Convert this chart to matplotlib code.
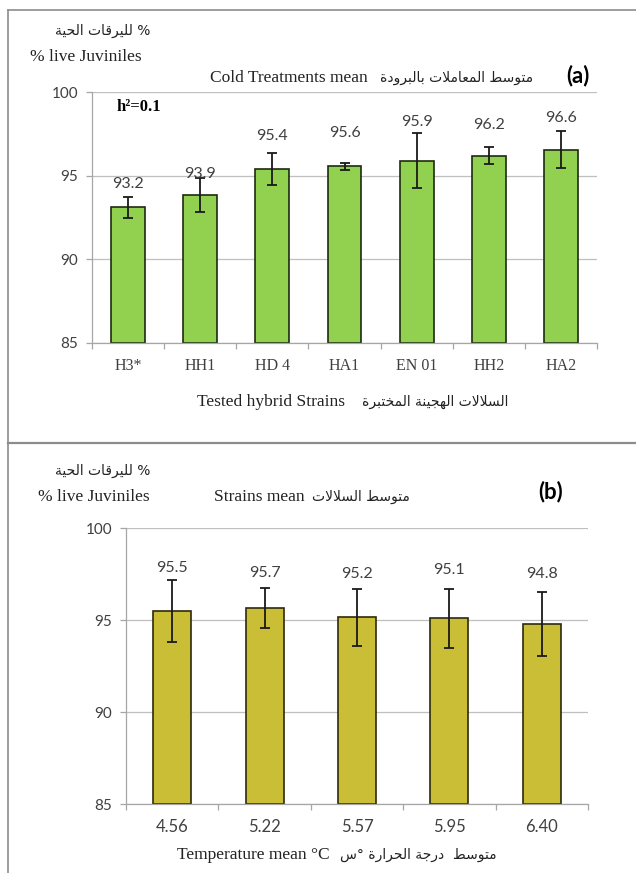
import numpy as np
import matplotlib
matplotlib.use('Agg')
import matplotlib.pyplot as plt
from matplotlib.lines import Line2D

# ---- data ----
strains = ['H3*', 'HH1', 'HD 4', 'HA1', 'EN 01', 'HH2', 'HA2']
strain_means = [93.2, 93.9, 95.4, 95.6, 95.9, 96.2, 96.6]
strain_bar_vals = [93.1, 93.85, 95.4, 95.55, 95.9, 96.2, 96.55]
strain_err = [0.6, 1.0, 0.95, 0.2, 1.65, 0.5, 1.1]

temps = ['4.56', '5.22', '5.57', '5.95', '6.40']
temp_means = [95.5, 95.7, 95.2, 95.1, 94.8]
temp_bar_vals = [95.5, 95.65, 95.15, 95.1, 94.8]
temp_err = [1.7, 1.08, 1.55, 1.6, 1.73]

# label heights above the bar value (style only)
top_lab_off = [1.3, 1.2, 2.0, 1.95, 2.3, 1.8, 1.85]
bot_lab_off = [2.3, 1.85, 2.3, 2.6, 2.7]

# ---- tiny arabic shaper (no reshaper lib here) ----
FORMS = {
    'ا': (0xFE8D, 0xFE8E, None, None),
    'ب': (0xFE8F, 0xFE90, 0xFE91, 0xFE92),
    'ة': (0xFE93, 0xFE94, None, None),
    'ت': (0xFE95, 0xFE96, 0xFE97, 0xFE98),
    'ج': (0xFE9D, 0xFE9E, 0xFE9F, 0xFEA0),
    'ح': (0xFEA1, 0xFEA2, 0xFEA3, 0xFEA4),
    'خ': (0xFEA5, 0xFEA6, 0xFEA7, 0xFEA8),
    'د': (0xFEA9, 0xFEAA, None, None),
    'ر': (0xFEAD, 0xFEAE, None, None),
    'س': (0xFEB1, 0xFEB2, 0xFEB3, 0xFEB4),
    'ط': (0xFEC1, 0xFEC2, 0xFEC3, 0xFEC4),
    'ع': (0xFEC9, 0xFECA, 0xFECB, 0xFECC),
    'ق': (0xFED5, 0xFED6, 0xFED7, 0xFED8),
    'ل': (0xFEDD, 0xFEDE, 0xFEDF, 0xFEE0),
    'م': (0xFEE1, 0xFEE2, 0xFEE3, 0xFEE4),
    'ن': (0xFEE5, 0xFEE6, 0xFEE7, 0xFEE8),
    'ه': (0xFEE9, 0xFEEA, 0xFEEB, 0xFEEC),
    'و': (0xFEED, 0xFEEE, None, None),
    'ي': (0xFEF1, 0xFEF2, 0xFEF3, 0xFEF4),
    'LA': (0xFEFB, 0xFEFC, None, None),
}


def ar(text):
    chars = []
    i = 0
    while i < len(text):
        if text[i] == 'ل' and i + 1 < len(text) and text[i + 1] == 'ا':
            chars.append('LA')
            i += 2
        else:
            chars.append(text[i])
            i += 1
    out = []
    for k, c in enumerate(chars):
        if c not in FORMS:
            out.append(c)
            continue
        prev = chars[k - 1] if k > 0 else None
        nxt = chars[k + 1] if k + 1 < len(chars) else None
        jp = prev in FORMS and FORMS[prev][2] is not None
        jn = FORMS[c][2] is not None and nxt in FORMS
        iso, fin, ini, med = FORMS[c]
        if jp and jn:
            g = med
        elif jp:
            g = fin
        elif jn:
            g = ini
        else:
            g = iso
        out.append(chr(g))
    return ''.join(reversed(out))


SERIF = 'Liberation Serif'
SANS = 'Lato'
ARF = 'DejaVu Sans'
GREY_TXT = '#404040'
TXT = '#222222'
EN_SIZE = 12.5
AR_SIZE = 10

W, H = 636, 873
fig = plt.figure(figsize=(W / 100, H / 100), dpi=100)


def fx(px):
    return px / W


def fy(py):
    return 1 - py / H


def style_axes(ax, n, labels, lab_font, lab_size):
    ax.set_xlim(-0.5, n - 0.5)
    ax.set_ylim(85, 100)
    ax.set_yticks([85, 90, 95, 100])
    ax.yaxis.grid(True, color='#BFBFBF', lw=0.9)
    ax.set_axisbelow(True)
    for s in ['top', 'right']:
        ax.spines[s].set_visible(False)
    for s in ['left', 'bottom']:
        ax.spines[s].set_color('#A6A6A6')
        ax.spines[s].set_linewidth(0.9)
    ax.set_xticks(range(n))
    ax.set_xticklabels(labels, fontfamily=lab_font, fontsize=lab_size, color=GREY_TXT)
    ax.set_xticks(np.arange(-0.5, n), minor=True)
    ax.tick_params(axis='x', which='major', length=0, pad=11)
    ax.tick_params(axis='x', which='minor', length=4, color='#A6A6A6', width=0.9)
    ax.tick_params(axis='y', length=4, color='#A6A6A6', width=0.9, pad=6,
                   labelsize=11, labelcolor=GREY_TXT)
    for t in ax.get_yticklabels():
        t.set_fontfamily(SANS)


# ================= panel (a) =================
ax1 = fig.add_axes([fx(92), fy(343), fx(597) - fx(92), fy(92) - fy(343)])
x1 = np.arange(len(strains))
ax1.bar(x1, np.array(strain_bar_vals) - 85, bottom=85, width=0.47,
        color='#92D050', edgecolor='#1E2A10', lw=1.2, zorder=2)
ax1.errorbar(x1, strain_bar_vals, yerr=strain_err, fmt='none', ecolor='#1a1a1a',
             elinewidth=1.3, capsize=3.5, capthick=1.3, zorder=3)
for xi, v, off in zip(x1, strain_means, top_lab_off):
    ax1.text(xi, v + off, f'{v:.1f}', ha='center', va='center', fontsize=11.5,
             fontfamily=SANS, color=GREY_TXT)
style_axes(ax1, len(strains), strains, SERIF, 11.5)
ax1.text(fx(117 - 92) / (fx(597) - fx(92)), 0.94, 'h²=0.1', transform=ax1.transAxes,
         fontsize=12, fontfamily=SERIF, fontweight='bold', va='center', ha='left')

# header texts (a)
fig.text(fx(150), fy(31), ar('% لليرقات الحية'), fontfamily=ARF, fontsize=AR_SIZE,
         ha='right', va='center', color=TXT)
fig.text(fx(30), fy(57), '% live Juviniles', fontfamily=SERIF, fontsize=EN_SIZE,
         ha='left', va='center', color=TXT)
fig.text(fx(368), fy(78), 'Cold Treatments mean', fontfamily=SERIF, fontsize=EN_SIZE,
         ha='right', va='center', color=TXT)
fig.text(fx(380), fy(78), ar('متوسط المعاملات بالبرودة'), fontfamily=ARF, fontsize=AR_SIZE,
         ha='left', va='center', color=TXT)
fig.text(fx(566), fy(76), '(a)', fontfamily=SANS, fontsize=16, fontweight='bold',
         ha='left', va='center')
fig.text(fx(345), fy(402), 'Tested hybrid Strains', fontfamily=SERIF, fontsize=EN_SIZE,
         ha='right', va='center', color=TXT)
fig.text(fx(362), fy(402), ar('السلالات الهجينة المختبرة'), fontfamily=ARF, fontsize=AR_SIZE,
         ha='left', va='center', color=TXT)

# ================= panel (b) =================
ax2 = fig.add_axes([fx(126), fy(804), fx(588) - fx(126), fy(528) - fy(804)])
x2 = np.arange(len(temps))
ax2.bar(x2, np.array(temp_bar_vals) - 85, bottom=85, width=0.41,
        color='#C9BE36', edgecolor='#2E2A0C', lw=1.2, zorder=2)
ax2.errorbar(x2, temp_bar_vals, yerr=temp_err, fmt='none', ecolor='#1a1a1a',
             elinewidth=1.3, capsize=3.5, capthick=1.3, zorder=3)
for xi, v, off in zip(x2, temp_means, bot_lab_off):
    ax2.text(xi, v + off, f'{v:.1f}', ha='center', va='center', fontsize=11.5,
             fontfamily=SANS, color=GREY_TXT)
style_axes(ax2, len(temps), temps, SANS, 12)

fig.text(fx(150), fy(471), ar('% لليرقات الحية'), fontfamily=ARF, fontsize=AR_SIZE,
         ha='right', va='center', color=TXT)
fig.text(fx(38), fy(497), '% live Juviniles', fontfamily=SERIF, fontsize=EN_SIZE,
         ha='left', va='center', color=TXT)
fig.text(fx(305), fy(497), 'Strains mean', fontfamily=SERIF, fontsize=EN_SIZE,
         ha='right', va='center', color=TXT)
fig.text(fx(312), fy(497), ar('متوسط السلالات'), fontfamily=ARF, fontsize=AR_SIZE,
         ha='left', va='center', color=TXT)
fig.text(fx(538), fy(492), '(b)', fontfamily=SANS, fontsize=16, fontweight='bold',
         ha='left', va='center')
fig.text(fx(330), fy(855), 'Temperature mean °C', fontfamily=SERIF, fontsize=EN_SIZE,
         ha='right', va='center', color=TXT)
fig.text(fx(340), fy(855), ar('متوسط  درجة الحرارة °س'), fontfamily=ARF, fontsize=AR_SIZE,
         ha='left', va='center', color=TXT)

# frame lines of the original layout
fig.add_artist(Line2D([fx(8), 1], [fy(10), fy(10)], color='#8C8C8C', lw=1.2))
fig.add_artist(Line2D([fx(8), fx(8)], [fy(10), 0], color='#8C8C8C', lw=1.2))
fig.add_artist(Line2D([fx(8), 1], [fy(443), fy(443)], color='#8C8C8C', lw=1.6))

fig.savefig('out.png', dpi=100)
